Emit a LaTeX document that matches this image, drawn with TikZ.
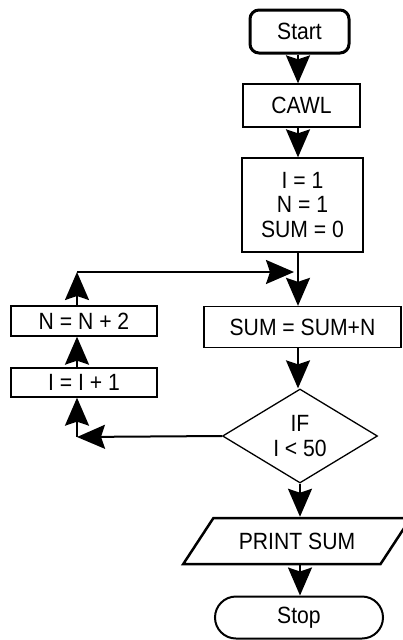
\documentclass[tikz,border=0pt]{standalone}
\usepackage{fontspec}
\setmainfont{Liberation Sans}
\newfontfamily\labfont[FakeStretch=0.9]{Liberation Sans}
\usetikzlibrary{shapes.geometric,arrows.meta}
\begin{document}
\begin{tikzpicture}[x=1pt,y=-1pt,
  box/.style={draw, line width=1.3pt, inner sep=0pt, align=center,
    font=\labfont\fontsize{23.5}{24.5}\selectfont},
  arr/.style={line width=2pt, -{Stealth[length=28pt,width=24pt,inset=4pt]}},
]
\useasboundingbox (0,0) rectangle (402,640);
\node[box, line width=3pt, rounded corners=9pt, minimum width=99pt, minimum height=43pt] (start) at (299.5,31.5) {Start};
\node[box, minimum width=117pt, minimum height=43pt] (cawl) at (301.5,105.5) {CAWL};
\node[box, minimum width=121pt, minimum height=94pt] (init) at (302.5,205) {I = 1\\N = 1\\SUM = 0};
\node[box, minimum width=197pt, minimum height=41pt] (sum) at (302.5,327) {SUM = SUM+N};
\node[box, minimum width=146pt, minimum height=30pt] (nbox) at (84,321) {N = N + 2};
\node[box, minimum width=146pt, minimum height=29pt] (ibox) at (84,382.5) {I = I + 1};
\node[box, diamond, aspect=1.65, minimum width=155pt, minimum height=94pt] (dia) at (300,436) {IF\\I < 50};
\node[box, line width=2.5pt, trapezium, trapezium stretches=true, trapezium left angle=38.4, trapezium right angle=141.6, minimum width=228pt, minimum height=46pt] (print) at (297,541) {PRINT SUM};
\node[box, line width=2pt, rounded corners=21pt, minimum width=168pt, minimum height=42pt] (stop) at (299,617.5) {Stop};
\coordinate (ax) at (298,0);
\coordinate (c1) at (77,272);
\coordinate (c1e) at (294,272);
\coordinate (c2) at (77,437);
\draw[arr] (ax |- start.south) -- (ax |- cawl.north);
\draw[arr] (ax |- cawl.south) -- (ax |- init.north);
\draw[arr] (ax |- init.south) -- (ax |- sum.north);
\draw[arr] (ax |- sum.south) -- (ax |- dia.north);
\draw[arr] (dia.south) -- (dia.south |- print.north);
\draw[arr] (dia.south |- print.south) -- (dia.south |- stop.north);
\draw[arr] (c1 |- nbox.north) -- (c1);
\draw[arr] (c1) -- (c1e);
\draw[arr] (c1 |- ibox.north) -- (c1 |- nbox.south);
\draw[arr] (dia.west) -- (c2);
\draw[arr] (c2) -- (c2 |- ibox.south);
\end{tikzpicture}
\end{document}
